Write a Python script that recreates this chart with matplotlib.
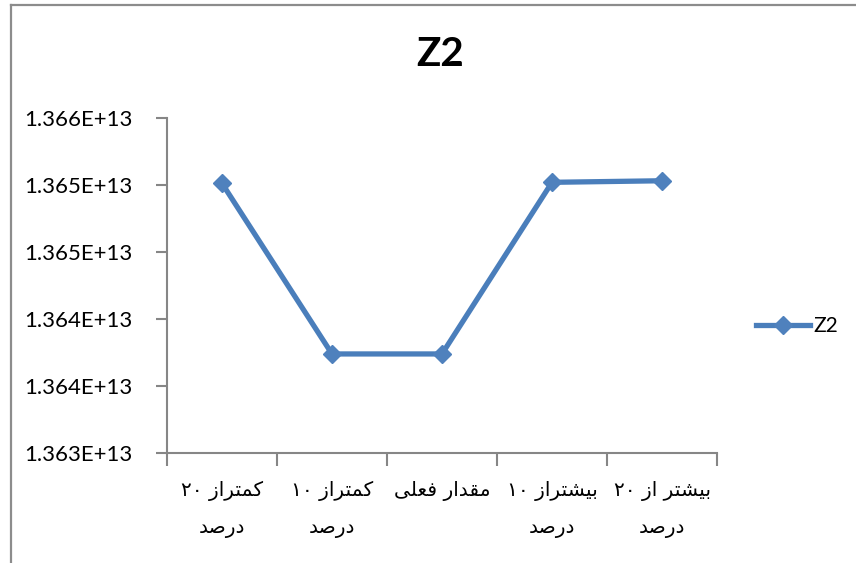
import re
import matplotlib
matplotlib.use("Agg")
import matplotlib.pyplot as plt
from matplotlib.lines import Line2D

# ---------------- data ----------------
title = "Z2"
series_name = "Z2"
categories = [
    "کمتراز ۲۰\nدرصد",
    "کمتراز ۱۰\nدرصد",
    "مقدار فعلی",
    "بیشتراز ۱۰\nدرصد",
    "بیشتر از ۲۰\nدرصد",
]
values = [1.365415e13, 1.363887e13, 1.363887e13, 1.365424e13, 1.365438e13]
y_ticks = [1.3630e13, 1.3636e13, 1.3642e13, 1.3648e13, 1.3654e13, 1.3660e13]
y_tick_labels = ["1.363E+13", "1.364E+13", "1.364E+13", "1.365E+13", "1.365E+13", "1.366E+13"]

# ------------- simple Persian shaping (matplotlib has no bidi/shaping) -------------
FORMS = {
    'ا': (0xFE8D, 0xFE8E, None, None),
    'ب': (0xFE8F, 0xFE90, 0xFE91, 0xFE92),
    'ت': (0xFE95, 0xFE96, 0xFE97, 0xFE98),
    'د': (0xFEA9, 0xFEAA, None, None),
    'ر': (0xFEAD, 0xFEAE, None, None),
    'ز': (0xFEAF, 0xFEB0, None, None),
    'ش': (0xFEB5, 0xFEB6, 0xFEB7, 0xFEB8),
    'ص': (0xFEB9, 0xFEBA, 0xFEBB, 0xFEBC),
    'ع': (0xFEC9, 0xFECA, 0xFECB, 0xFECC),
    'ف': (0xFED1, 0xFED2, 0xFED3, 0xFED4),
    'ق': (0xFED5, 0xFED6, 0xFED7, 0xFED8),
    'ل': (0xFEDD, 0xFEDE, 0xFEDF, 0xFEE0),
    'م': (0xFEE1, 0xFEE2, 0xFEE3, 0xFEE4),
    'ک': (0xFB8E, 0xFB8F, 0xFB90, 0xFB91),
    'ی': (0xFBFC, 0xFBFD, 0xFBFE, 0xFBFF),
}
DUAL = {c for c, f in FORMS.items() if f[2] is not None}


def shape_line(line):
    out = []
    for i, ch in enumerate(line):
        if ch not in FORMS:
            out.append(ch)
            continue
        prev = line[i - 1] if i > 0 else ''
        nxt = line[i + 1] if i + 1 < len(line) else ''
        jp = prev in DUAL
        jn = ch in DUAL and nxt in FORMS
        iso, fin, ini, med = FORMS[ch]
        if jp and jn:
            code = med
        elif jp:
            code = fin
        elif jn:
            code = ini
        else:
            code = iso
        out.append(chr(code))
    s = ''.join(out)[::-1]
    s = re.sub(r'[0-9\u06F0-\u06F9]+', lambda m: m.group(0)[::-1], s)
    return s


def shape(text):
    return "\n".join(shape_line(l) for l in text.split("\n"))


# ---------------- figure ----------------
W, H = 856, 563
fig = plt.figure(figsize=(W / 100, H / 100), dpi=100)
fig.patch.set_facecolor("white")

L, R, T, B = 167, 717, 118, 453
ax = fig.add_axes([L / W, 1 - B / H, (R - L) / W, (B - T) / H])

x = list(range(len(categories)))
line_color = "#4A7EBB"
ax.plot(x, values, color=line_color, linewidth=3.8, marker="D", markersize=9.5,
        markerfacecolor="#4F81BD", markeredgecolor="#4F81BD", label=series_name,
        solid_joinstyle="round")

ax.set_xlim(-0.5, len(categories) - 0.5)
ax.set_ylim(y_ticks[0], y_ticks[-1])
ax.set_yticks(y_ticks)
ax.set_yticklabels(y_tick_labels, family="Lato", fontsize=16)

ax.set_xticks([i - 0.5 for i in range(len(categories) + 1)])
ax.set_xticklabels([])
ax.set_xticks(x, minor=True)
ax.set_xticklabels([shape(c) for c in categories], minor=True,
                   family=["DejaVu Sans"], fontsize=14.5, linespacing=2.15)
ax.tick_params(axis="x", which="minor", length=0, pad=20)
ax.tick_params(axis="x", which="major", length=9, width=1.5, color="#868686", direction="out")
ax.tick_params(axis="y", length=8, width=1.5, color="#868686", direction="out", pad=17)

for s in ("top", "right"):
    ax.spines[s].set_visible(False)
for s in ("left", "bottom"):
    ax.spines[s].set_color("#868686")
    ax.spines[s].set_linewidth(1.5)

fig.text(440 / W, 1 - 55 / H, title, family="Lato", fontweight="bold", fontsize=29,
         ha="center", va="center")

leg = ax.legend(loc="center left", bbox_to_anchor=(756 / W, 1 - 326 / H),
                bbox_transform=fig.transFigure, frameon=False,
                prop={"family": "Lato", "size": 15}, handlelength=2.6,
                handletextpad=0.15, borderpad=0, borderaxespad=0)

# chart-area border (Excel style), right/bottom edges fall outside the image
fig.add_artist(Line2D([11 / W, 11 / W], [0, 1 - 5 / H], transform=fig.transFigure,
                      color="#8C8C8C", linewidth=1.6))
fig.add_artist(Line2D([11 / W, 1], [1 - 5 / H, 1 - 5 / H], transform=fig.transFigure,
                      color="#8C8C8C", linewidth=1.6))

fig.savefig("out.png", dpi=100, facecolor="white")
